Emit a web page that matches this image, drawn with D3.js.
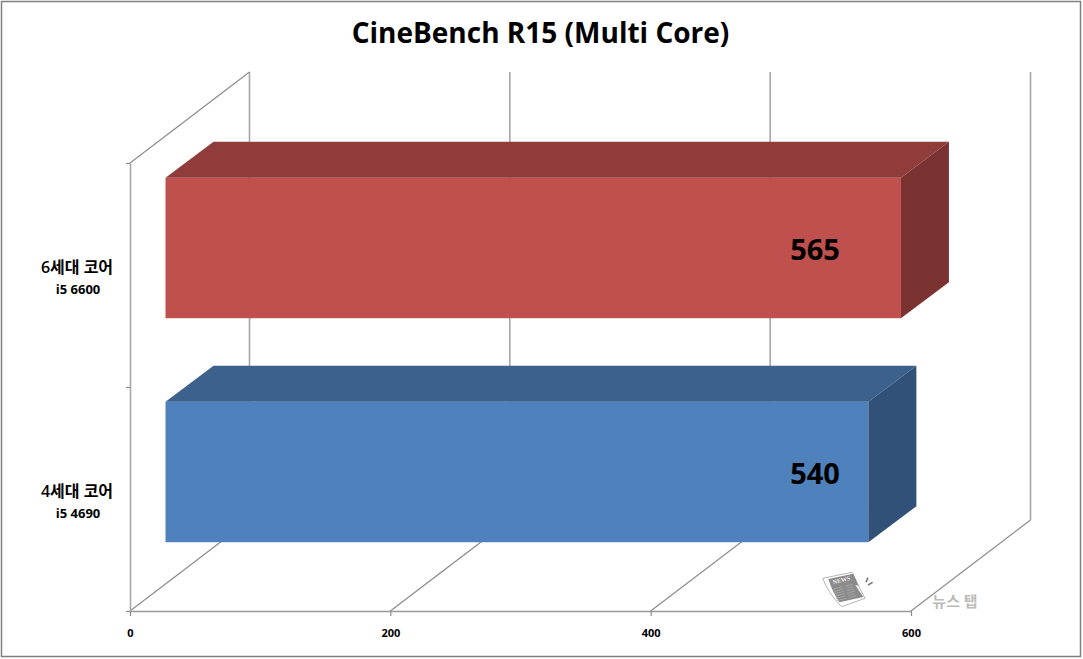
<!DOCTYPE html>
<html>
<head>
<meta charset="utf-8">
<script src="https://cdnjs.cloudflare.com/ajax/libs/d3/7.8.5/d3.min.js"></script>
<style>
body { margin: 0; background: #fff; }
svg { display: block; }
text { font-family: "Open Sans", "Noto Sans CJK KR", sans-serif; }
</style>
</head>
<body>
<svg></svg>
<script>
let categories = ['4세대 코어', '6세대 코어']
let models = ['i5 4690', 'i5 6600']
let values = [540, 565]
let xTicks = [0, 200, 400, 600]

let frontColors = ['#4f81bd', '#c0504d']
let topColors = ['#3c618d', '#8f3c3a']
let sideColors = ['#325178', '#7b3331']

let width = 1083
let height = 659

// wall depth and bar depth of the fake 3d box
let depthX = 119.5
let depthY = -91
let barDepthX = 48
let barDepthY = -36
let barShiftX = 35.5
let barShiftY = -27

let svg = d3.select('svg').attr('width', width).attr('height', height)

let xScale = d3.scaleLinear().domain([0, 600]).range([130, 911])
let yScale = d3.scaleBand().domain(categories).range([611, 163]).paddingInner(0.373).paddingOuter(0.1865)

let lineColor = '#8c8c8c'
let backColor = '#a8a8a8'

// outer frame
svg.append('rect')
    .attr('x', 1.5).attr('y', 1.5)
    .attr('width', 1079).attr('height', 655)
    .attr('fill', 'white')
    .attr('stroke', '#7f7f7f')
    .attr('stroke-width', 1.5)

svg.append('text')
    .attr('x', 540.5).attr('y', 43)
    .attr('text-anchor', 'middle')
    .attr('font-size', 28)
    .attr('font-weight', 700)
    .attr('fill', '#000')
    .text('CineBench R15 (Multi Core)')

// walls
let grid = svg.append('g').attr('fill', 'none').attr('stroke', lineColor).attr('stroke-width', 1.2)

grid.selectAll('.floor')
    .data(xTicks)
    .enter()
    .append('line')
    .attr('class', 'floor')
    .attr('x1', d => xScale(d))
    .attr('y1', 611)
    .attr('x2', d => xScale(d) + depthX)
    .attr('y2', 611 + depthY)

grid.selectAll('.back')
    .data(xTicks)
    .enter()
    .append('line')
    .attr('class', 'back')
    .attr('x1', d => xScale(d) + depthX)
    .attr('y1', 611 + depthY)
    .attr('x2', d => xScale(d) + depthX)
    .attr('y2', 163 + depthY)
    .attr('stroke', backColor)
    .attr('stroke-width', 1.6)

grid.append('line')
    .attr('x1', xScale(0)).attr('y1', 163)
    .attr('x2', xScale(0) + depthX).attr('y2', 163 + depthY)

// bars
let bars = svg.selectAll('.bar')
    .data(categories)
    .enter()
    .append('g')
    .attr('class', 'bar')

let barX = xScale(0) + barShiftX

bars.append('rect')
    .attr('x', barX)
    .attr('y', d => yScale(d) + barShiftY)
    .attr('width', (d, i) => xScale(values[i]) - xScale(0))
    .attr('height', yScale.bandwidth())
    .attr('fill', (d, i) => frontColors[i])

bars.append('path')
    .attr('fill', (d, i) => topColors[i])
    .attr('d', (d, i) => {
        let y = yScale(d) + barShiftY
        let r = barX + xScale(values[i]) - xScale(0)
        return d3.line()([[barX, y], [r, y], [r + barDepthX, y + barDepthY], [barX + barDepthX, y + barDepthY]]) + 'Z'
    })

bars.append('path')
    .attr('fill', (d, i) => sideColors[i])
    .attr('d', (d, i) => {
        let y = yScale(d) + barShiftY
        let h = yScale.bandwidth()
        let r = barX + xScale(values[i]) - xScale(0)
        return d3.line()([[r, y], [r + barDepthX, y + barDepthY], [r + barDepthX, y + barDepthY + h], [r, y + h]]) + 'Z'
    })

// both value labels sit at the same x in the original
bars.append('text')
    .attr('x', 815)
    .attr('y', d => yScale(d) + barShiftY + yScale.bandwidth() / 2 + 12)
    .attr('text-anchor', 'middle')
    .attr('font-size', 29)
    .attr('font-weight', 700)
    .attr('fill', '#000')
    .text((d, i) => values[i])

// axes
let xAxis = d3.axisBottom(xScale).tickValues(xTicks).tickSize(5).tickPadding(13).tickSizeOuter(0)
let xAxisG = svg.append('g')
    .attr('transform', 'translate(0,611)')
    .call(xAxis)
xAxisG.selectAll('text').attr('font-size', 11).attr('font-weight', 700).attr('fill', '#000')
    .style('font-family', '"Open Sans", sans-serif')
xAxisG.selectAll('line').attr('stroke', lineColor).attr('stroke-width', 1.2)
xAxisG.select('path').attr('stroke', '#999').attr('stroke-width', 1.6)

let yAxis = d3.axisLeft(d3.scalePoint().domain(['a', 'b', 'c']).range([611, 163])).tickSize(4).tickSizeOuter(0).tickFormat('')
let yAxisG = svg.append('g')
    .attr('transform', 'translate(130,0)')
    .call(yAxis)
yAxisG.selectAll('line').attr('stroke', lineColor).attr('stroke-width', 1.2)
yAxisG.select('path').attr('stroke', backColor).attr('stroke-width', 1.6)

let labels = svg.selectAll('.cat')
    .data(categories)
    .enter()
    .append('text')
    .attr('class', 'cat')
    .attr('text-anchor', 'middle')
    .attr('fill', '#000')

labels.append('tspan')
    .attr('x', 77)
    .attr('y', d => yScale(d) + yScale.bandwidth() / 2 - 2)
    .attr('font-size', 16)
    .attr('font-weight', 600)
    .text(d => d)

labels.append('tspan')
    .attr('x', 78)
    .attr('y', d => yScale(d) + yScale.bandwidth() / 2 + 19)
    .attr('font-size', 13)
    .attr('font-weight', 700)
    .text((d, i) => models[i])

// watermark, a small newspaper
let mark = svg.append('g').attr('transform', 'translate(810,565) scale(0.3333)')
mark.append('path')
    .attr('d', 'M38 40 L125 22 L165 100 L95 125 Q55 85 38 40Z')
    .attr('fill', '#fff')
    .attr('stroke', '#b5b5b5')
    .attr('stroke-width', 3)
mark.append('path')
    .attr('d', 'M55 42 L130 26 L146 62 L136 60 L160 96 L88 112 Q66 78 55 42Z')
    .attr('fill', '#8b8b8b')
mark.append('text')
    .attr('transform', 'translate(70,58) rotate(-14)')
    .attr('font-size', 18)
    .attr('font-weight', 700)
    .attr('fill', '#eee')
    .style('font-family', '"Liberation Serif", serif')
    .text('NEWS')
mark.selectAll('.stripe')
    .data(d3.range(6))
    .enter()
    .append('path')
    .attr('class', 'stripe')
    .attr('d', d => {
        let y = 72 + d * 7
        return 'M' + (70 + d * 2) + ' ' + y + ' L' + (98 + d * 2) + ' ' + (y - 7) +
            ' M' + (106 + d * 2) + ' ' + (y - 9) + ' L' + (128 + d * 2) + ' ' + (y - 14)
    })
    .attr('stroke', '#b4b4b4')
    .attr('stroke-width', 1.8)
    .attr('fill', 'none')
mark.append('path')
    .attr('d', 'M168 52 L174 38 M174 60 L188 52')
    .attr('stroke', '#777')
    .attr('stroke-width', 4.5)

svg.append('text')
    .attr('x', 955).attr('y', 607)
    .attr('text-anchor', 'middle')
    .attr('font-size', 15)
    .attr('font-weight', 700)
    .attr('fill', '#bbb')
    .text('뉴스 탭')
</script>
</body>
</html>
